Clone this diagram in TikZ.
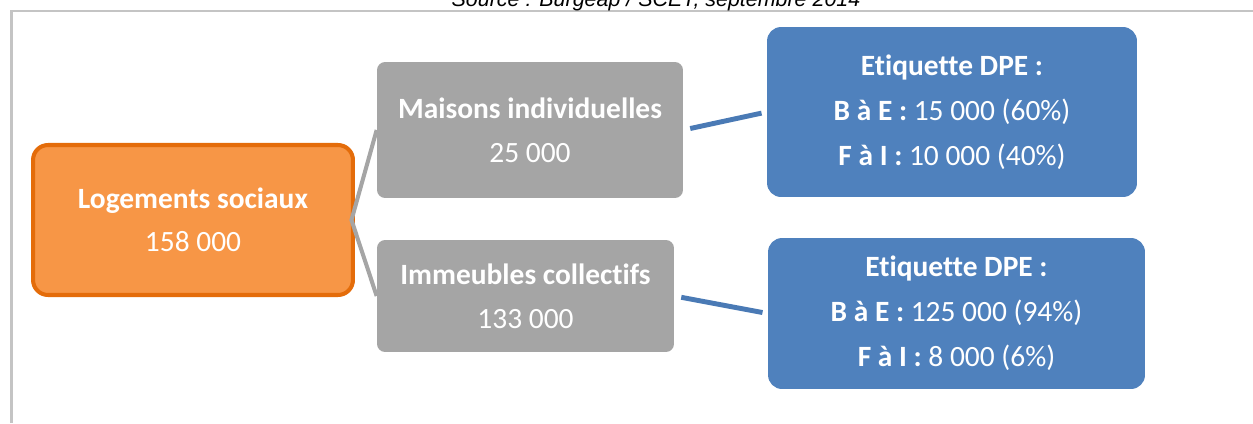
\documentclass[tikz,border=0pt]{standalone}
\usepackage{fontspec}
\setmainfont[Ligatures=NoCommon]{Carlito}
\newfontfamily\arialfont{Liberation Sans}
\definecolor{orangefill}{HTML}{F79646}
\definecolor{orangeline}{HTML}{E46C0A}
\definecolor{greyfill}{HTML}{A5A5A5}
\definecolor{bluefill}{HTML}{4F81BD}
\definecolor{blueline}{HTML}{4A7AB5}
\definecolor{framegrey}{HTML}{C4C4C4}

\begin{document}
\begin{tikzpicture}[x=0.02cm, y=-0.02cm,
  rootbox/.style={rectangle, rounded corners=0.3cm, fill=orangefill, draw=orangeline, line width=2.3pt, text=white, align=center, font=\fontsize{16.75}{24.5}\selectfont},
  typebox/.style={rectangle, rounded corners=0.16cm, fill=greyfill, text=white, align=center, font=\fontsize{16.75}{25}\selectfont},
  dpebox/.style={rectangle, rounded corners=0.28cm, fill=bluefill, text=white, align=center, font=\fontsize{16.75}{25.5}\selectfont},
  greylink/.style={draw=greyfill, line width=2.3pt},
  bluelink/.style={draw=blueline, line width=2.8pt, shorten <=4pt, shorten >=3pt}]
\useasboundingbox (0,0) rectangle (1253,423);
\draw[framegrey, line width=1.7pt] (11.5,423) |- (1253,11);
\node[anchor=base, font=\arialfont\itshape\fontsize{12.2}{13}\selectfont] (source) at (656,6) {Source : Burgeap / SCET, septembre 2014};

\node[rootbox, minimum width=6.4cm, minimum height=3cm] (root) at (193,220) {\textbf{Logements sociaux}\\158 000};
\node[typebox, minimum width=6.12cm, minimum height=2.72cm] (maisons) at (530,130) {\textbf{Maisons individuelles}\\25 000};
\node[typebox, minimum width=5.94cm, minimum height=2.24cm] (immeubles) at (525.5,296) {\textbf{Immeubles collectifs}\\133 000};
\node[dpebox, minimum width=7.4cm, minimum height=3.4cm] (dpe1) at (952,112) {\textbf{Etiquette DPE :}\\\textbf{B à E :} 15 000 (60\%)\\\textbf{F à I :} 10 000 (40\%)};
\node[dpebox, minimum width=7.54cm, minimum height=3.02cm] (dpe2) at (956.5,313.5) {\textbf{Etiquette DPE :}\\\textbf{B à E :} 125 000 (94\%)\\\textbf{F à I :} 8 000 (6\%)};

\path[greylink] (maisons.west) -- ([xshift=-2pt]root.east) -- (immeubles.west);
\path[bluelink] (maisons.east) -- (dpe1.west);
\path[bluelink] (immeubles.east) -- (dpe2.west);
\end{tikzpicture}
\end{document}
